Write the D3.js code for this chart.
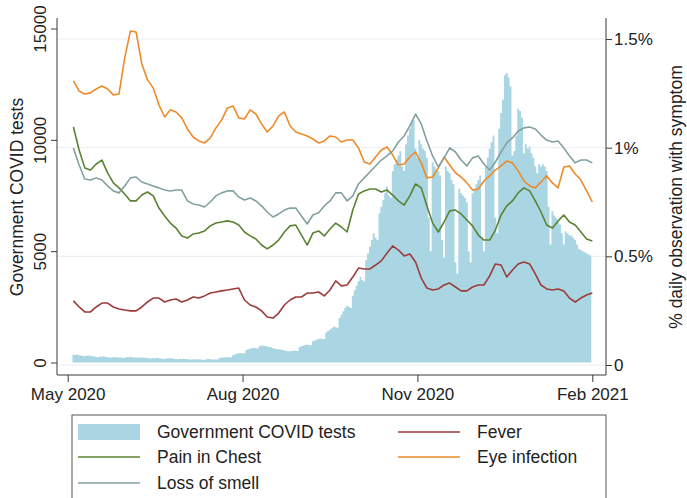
<!DOCTYPE html>
<html><head><meta charset="utf-8">
<script src="https://cdn.jsdelivr.net/npm/d3@7"></script>
<style>
body{margin:0;background:#fff}
svg{display:block}
text{font-family:"Liberation Sans",Arial,sans-serif;fill:#222}
</style>
</head><body>
<svg id="chart" width="687" height="498"></svg>
<script>
// ---------------- data ----------------
const barStart = "2020-05-04";          // daily bars, first day
const lineStart = "2020-05-04";         // symptom series, first day
const lineStepDays = 3;                 // symptom series sampled every 3 days

const govTests = [
  350,340,360,330,320,290,280,
  300,310,290,280,270,250,240,
  270,260,280,250,240,230,220,
  240,250,230,230,220,210,200,
  250,240,260,240,230,220,210,
  220,230,210,210,200,190,180,
  200,190,210,190,180,170,160,
  190,180,190,180,170,160,150,
  170,160,170,160,150,140,130,
  150,140,150,140,130,120,115,
  150,160,150,140,140,135,130,
  200,220,230,240,250,240,235,
  330,360,400,420,430,420,410,
  560,600,620,650,660,640,630,
  730,760,750,740,720,700,680,
  640,620,600,590,580,560,540,
  520,500,510,520,540,530,520,
  700,740,760,790,810,790,780,
  950,990,1020,1050,1080,1060,1050,
  1350,1420,1480,1540,1600,1580,1560,
  2000,2150,2300,2450,2550,2500,2450,
  3000,3250,3450,3650,3850,3700,3650,
  4600,4900,5200,5500,5800,5600,5500,
  6700,7000,7300,7600,7900,7500,7400,
  8600,8900,9100,9300,9500,8800,8600,
  9800,10200,10500,10800,10900,9600,9200,
  10000,9800,9600,9500,9200,6500,5000,
  9000,8800,8700,8600,8400,5500,4700,
  8800,8600,8500,8200,8000,4500,4000,
  7800,7600,7500,7400,7200,5000,4500,
  7600,7800,8000,8200,8400,5600,5000,
  8800,9200,9600,9900,10200,6500,5800,
  10500,11200,11800,12900,13000,12800,12400,
  9300,9500,10200,11400,11300,11000,9400,
  9800,9600,9700,9400,9200,8800,8500,
  8900,8800,8900,8800,8600,7000,5300,
  6800,6600,6500,6300,6200,5800,5300,
  5900,5800,5700,5700,5600,5500,5300,
  5100,5050,5000,4950,4900,4850,4800
];

const fever = [
  .295,.267,.244,.244,.267,.285,.285,.267,.258,.253,
  .249,.249,.267,.290,.308,.308,.290,.299,.304,.290,
  .299,.313,.308,.318,.331,.336,.341,.345,.350,.354,
  .299,.276,.267,.249,.221,.216,.239,.276,.299,.313,
  .313,.331,.331,.336,.318,.345,.387,.364,.368,.405,
  .446,.442,.442,.460,.479,.515,.548,.529,.502,.511,
  .474,.400,.354,.345,.350,.368,.377,.359,.341,.341,
  .359,.368,.368,.410,.465,.460,.405,.437,.465,.474,
  .465,.419,.368,.350,.345,.350,.341,.308,.290,.308,
  .322,.331
];
const painInChest = [
  1.095,0.989,0.907,0.897,0.925,0.943,0.884,0.838,0.815,0.787,
  0.755,0.755,0.782,0.796,0.778,0.722,0.686,0.653,0.630,0.594,
  0.584,0.603,0.607,0.617,0.640,0.653,0.658,0.663,0.658,0.644,
  0.612,0.594,0.580,0.552,0.534,0.552,0.575,0.612,0.640,0.644,
  0.598,0.552,0.607,0.617,0.594,0.626,0.653,0.635,0.612,0.713,
  0.787,0.801,0.810,0.810,0.796,0.805,0.782,0.755,0.736,0.778,
  0.833,0.815,0.732,0.653,0.612,0.658,0.709,0.713,0.695,0.667,
  0.640,0.598,0.575,0.575,0.621,0.690,0.732,0.755,0.792,0.815,
  0.801,0.755,0.704,0.644,0.630,0.663,0.690,0.658,0.644,0.612,
  0.580,0.571
];
const eyeInfection = [
  1.307,1.261,1.247,1.252,1.270,1.284,1.270,1.243,1.247,1.413,
  1.537,1.532,1.385,1.312,1.275,1.197,1.141,1.174,1.164,1.137,
  1.086,1.049,1.031,1.022,1.045,1.091,1.127,1.183,1.192,1.137,
  1.132,1.174,1.155,1.109,1.072,1.100,1.146,1.164,1.100,1.072,
  1.063,1.054,1.040,1.022,1.031,1.054,1.049,1.026,1.035,1.035,
  0.999,0.934,0.925,0.957,0.989,1.003,0.966,0.920,0.925,0.957,
  0.980,0.930,0.861,0.865,0.907,0.957,0.920,0.884,0.865,0.838,
  0.805,0.810,0.847,0.870,0.897,0.916,0.939,0.930,0.893,0.847,
  0.824,0.815,0.842,0.870,0.838,0.815,0.911,0.916,0.879,0.851,
  0.801,0.750
];
const lossOfSmell = [
  0.999,0.920,0.856,0.851,0.861,0.851,0.824,0.801,0.792,0.824,
  0.861,0.865,0.842,0.833,0.824,0.815,0.805,0.801,0.805,0.805,
  0.755,0.741,0.736,0.727,0.750,0.778,0.792,0.801,0.801,0.773,
  0.759,0.768,0.755,0.732,0.704,0.681,0.695,0.713,0.722,0.722,
  0.686,0.649,0.690,0.700,0.732,0.755,0.792,0.792,0.755,0.778,
  0.833,0.861,0.888,0.916,0.943,0.962,0.985,1.026,1.054,1.100,
  1.155,1.109,1.031,0.962,0.911,0.953,0.999,0.980,0.943,0.916,
  0.953,0.962,0.925,0.897,0.934,0.980,1.022,1.045,1.077,1.091,
  1.095,1.086,1.058,1.035,1.026,1.031,0.999,0.962,0.930,0.943,
  0.943,0.930
];

const xTickDates = ["2020-05-01","2020-08-01","2020-11-01","2021-02-01"];
const xTickLabels = ["May 2020","Aug 2020","Nov 2020","Feb 2021"];
const leftTicks = [0,5000,10000,15000];
const rightTicks = [0,0.5,1,1.5];
const rightTickLabels = ["0","0.5%","1%","1.5%"];
const leftTitle = "Government COVID tests";
const rightTitle = "% daily observation with symptom";
const legendNames = ["Government COVID tests","Fever","Pain in Chest","Eye infection","Loss of smell"];
const colors = {bar:"#aad6e4", fever:"#9b3b3a", pain:"#5b8233", eye:"#ee8a2a", smell:"#83a0a0"};

// ---------------- chart ----------------
const svg = d3.select("#chart");
const parse = d3.utcParse("%Y-%m-%d");
const frame = {left:57, right:606, top:18, bottom:375};

const x = d3.scaleUtc().domain([parse(xTickDates[0]), parse(xTickDates[3])]).range([67.7, 592.3]);
const yL = d3.scaleLinear().domain([0,15000]).range([362.5, 28.5]);
const yR = d3.scaleLinear().domain([0,1.5]).range([365, 39]);

const b0 = parse(barStart), l0 = parse(lineStart);
const bars = govTests.map((v,i)=>({d:d3.utcDay.offset(b0,i), v}));
// append closing step so the last day's bar gets its full width
const barSteps = bars.concat([{d:d3.utcDay.offset(b0,govTests.length), v:govTests[govTests.length-1]}]);
const mk = arr => arr.map((v,i)=>({d:d3.utcDay.offset(l0,i*lineStepDays), v}));

// gridlines (right axis)
svg.append("g").selectAll("line").data(rightTicks).join("line")
  .attr("x1",frame.left).attr("x2",frame.right)
  .attr("y1",d=>yR(d)).attr("y2",d=>yR(d))
  .attr("stroke","#e9eef2").attr("stroke-width",1);

// daily bars drawn as a stepped area (bars centred on their day)
const halfDay = (x(d3.utcDay.offset(b0,1)) - x(b0)) / 2;
const barArea = d3.area()
  .x(d=>x(d.d)-halfDay)
  .y0(yL(0)).y1(d=>yL(d.v))
  .curve(d3.curveStepAfter);
svg.append("path").datum(barSteps).attr("d",barArea).attr("fill",colors.bar);

// lines
const line = d3.line().x(d=>x(d.d)).y(d=>yR(d.v));
[[fever,colors.fever],[painInChest,colors.pain],[eyeInfection,colors.eye],[lossOfSmell,colors.smell]]
 .forEach(([arr,c])=>{
   svg.append("path").datum(mk(arr)).attr("d",line)
     .attr("fill","none").attr("stroke",c).attr("stroke-width",1.6)
     .attr("stroke-linejoin","round");
 });

// axes
const axisColor = "#3a3a3a";
const fs = "17px";
const gL = svg.append("g").attr("transform",`translate(${frame.left},0)`)
  .call(d3.axisLeft(yL).tickValues(leftTicks).tickSize(6).tickFormat(d3.format("d")));
gL.select(".domain").remove();
gL.selectAll("line").attr("stroke",axisColor);
gL.selectAll("text").attr("transform","rotate(-90)").attr("x",0).attr("y",-17).attr("dy","0.35em")
  .attr("text-anchor","middle").style("font-size",fs).attr("fill","#222");

const gR = svg.append("g").attr("transform",`translate(${frame.right},0)`)
  .call(d3.axisRight(yR).tickValues(rightTicks).tickSize(6).tickFormat((d,i)=>rightTickLabels[i]));
gR.select(".domain").remove();
gR.selectAll("line").attr("stroke",axisColor);
gR.selectAll("text").attr("x",8).style("font-size",fs).attr("fill","#222");

const gB = svg.append("g").attr("transform",`translate(0,${frame.bottom})`)
  .call(d3.axisBottom(x).tickValues(xTickDates.map(parse)).tickSize(7).tickFormat((d,i)=>xTickLabels[i]));
gB.select(".domain").remove();
gB.selectAll("line").attr("stroke",axisColor);
gB.selectAll("text").attr("y",13).style("font-size",fs).attr("fill","#222");

// frame lines
svg.append("line").attr("x1",frame.left).attr("x2",frame.left).attr("y1",frame.top).attr("y2",frame.bottom).attr("stroke",axisColor);
svg.append("line").attr("x1",frame.right).attr("x2",frame.right).attr("y1",frame.top).attr("y2",frame.bottom).attr("stroke",axisColor);
svg.append("line").attr("x1",frame.left).attr("x2",frame.right).attr("y1",frame.bottom).attr("y2",frame.bottom).attr("stroke",axisColor);

// titles
svg.append("text").attr("transform","translate(17,197) rotate(-90)").attr("text-anchor","middle")
  .attr("dy","0.35em").style("font-size","17.5px").text(leftTitle);
svg.append("text").attr("transform","translate(676,197) rotate(-90)").attr("text-anchor","middle")
  .attr("dy","0.35em").style("font-size","17.5px").text(rightTitle);

// legend
const lg = svg.append("g");
lg.append("rect").attr("x",72).attr("y",415).attr("width",534).attr("height",110)
  .attr("fill","#fff").attr("stroke","#555").attr("stroke-width",1);
const items = [
  {name:legendNames[0], type:"bar", c:colors.bar, col:0, row:0},
  {name:legendNames[1], type:"line", c:colors.fever, col:1, row:0},
  {name:legendNames[2], type:"line", c:colors.pain, col:0, row:1},
  {name:legendNames[3], type:"line", c:colors.eye, col:1, row:1},
  {name:legendNames[4], type:"line", c:colors.smell, col:0, row:2}
];
const colKey = [78, 398], colText = [157, 477], rowY = [432, 457, 483];
items.forEach(it=>{
  const kx = colKey[it.col], ky = rowY[it.row];
  if(it.type==="bar"){
    lg.append("rect").attr("x",kx).attr("y",ky-8).attr("width",62).attr("height",16).attr("fill",it.c);
  } else {
    lg.append("line").attr("x1",kx).attr("x2",kx+62).attr("y1",ky).attr("y2",ky)
      .attr("stroke",it.c).attr("stroke-width",1.6);
  }
  lg.append("text").attr("x",colText[it.col]).attr("y",ky).attr("dy","0.35em")
    .style("font-size","17.5px").text(it.name);
});
</script>
</body></html>
